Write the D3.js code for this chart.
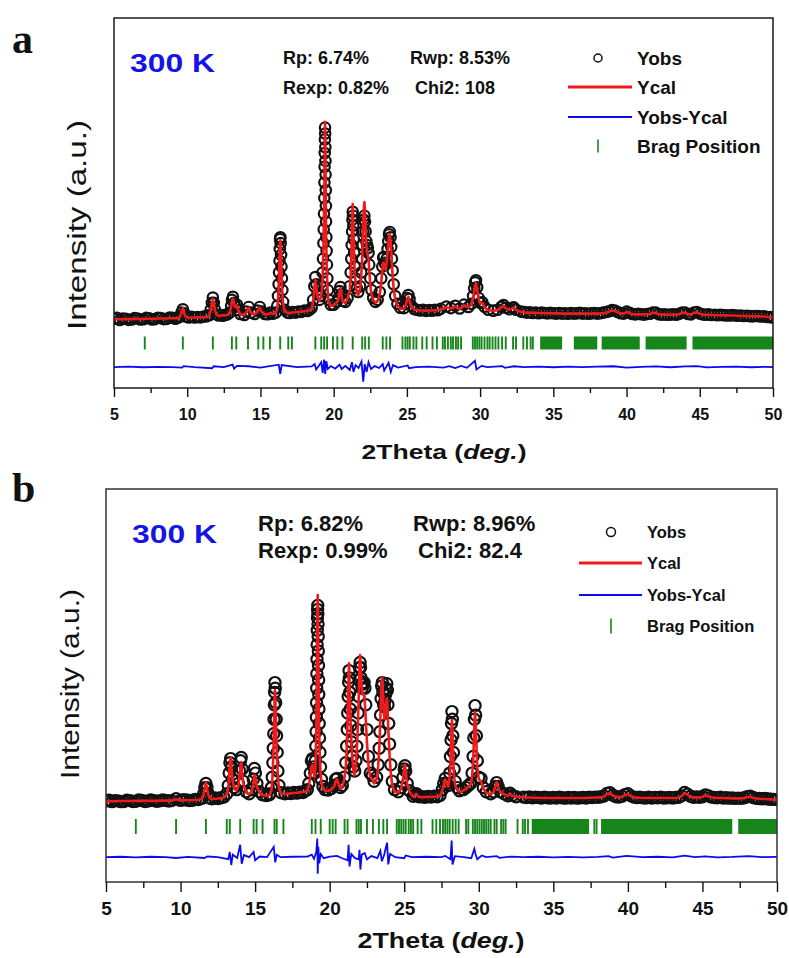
<!DOCTYPE html>
<html>
<head>
<meta charset="utf-8">
<script src="https://cdn.jsdelivr.net/npm/d3@7"></script>
<style>
  body { margin: 0; background: #fff; }
  svg { display: block; }
</style>
</head>
<body>
<script>
// ---------- data: 2theta (deg) and intensity (arb. units) ----------

// panel a
const thetaA = [
  5.0,5.2,5.4,5.6,5.8,6.0,6.2,6.4,6.6,6.8,7.0,7.2,7.4,7.6,7.8,8.0,8.2,8.4,8.6,8.8,9.0,9.2,9.35,
  9.5,9.6,9.7,9.8,9.9,
  10.1,10.3,10.5,10.7,10.9,11.1,11.3,
  11.5,11.6,11.68,11.75,11.82,11.9,12.0,
  12.15,12.3,12.45,12.6,12.75,
  12.9,13.0,13.06,13.12,13.2,13.3,13.4,13.5,13.62,
  13.9,14.05,14.2,14.35,14.6,14.8,14.95,15.1,15.3,
  15.5,15.68,15.85,
  16.05,16.15,16.2,16.24,16.27,16.3,16.32,16.34,16.36,16.38,16.41,16.44,16.47,16.5,16.55,16.65,16.85,
  17.0,17.2,17.4,17.6,17.8,18.0,18.2,18.35,
  18.5,18.6,18.68,18.75,18.82,18.9,19.02,19.12,19.2,19.24,19.27,19.3,19.32,19.34,19.36,19.37,19.38,19.39,
  19.4,19.41,19.42,19.43,19.44,19.45,19.46,19.47,19.48,19.5,19.52,19.54,19.57,19.61,19.67,19.8,20.0,20.2,
  20.33,20.4,20.46,20.53,20.62,
  20.8,20.95,21.1,21.16,21.2,21.23,21.26,21.28,21.3,21.32,21.34,21.37,21.4,21.44,21.5,21.58,
  21.68,21.8,21.88,21.94,21.98,22.02,22.06,22.1,22.14,22.18,22.23,22.28,22.33,22.38,22.43,22.5,22.58,22.7,22.85,23.0,
  23.15,23.25,23.32,23.38,23.42,23.48,23.55,23.62,23.68,23.73,23.78,23.83,23.88,23.93,23.98,24.03,24.1,24.2,24.35,24.55,
  24.8,24.92,25.02,25.1,25.18,25.3,25.5,
  25.7,25.9,26.1,26.3,26.5,26.7,26.9,27.1,27.3,
  27.7,28.0,28.3,28.6,28.9,29.2,
  29.4,29.52,29.6,29.66,29.72,29.8,29.9,30.0,30.15,30.3,30.55,
  30.9,31.2,31.45,31.6,31.75,32.0,32.2,32.3,32.45,32.8,
  33.0,33.2,33.4,33.6,33.8,34.0,34.2,34.4,34.6,34.8,35.0,35.2,35.4,35.6,35.8,36.0,36.2,36.4,36.6,36.8,
  37.0,37.2,37.4,37.6,37.8,38.0,38.2,38.4,38.6,38.8,39.0,39.2,39.4,39.6,39.8,40.0,40.2,40.4,40.6,40.8,
  41.0,41.2,41.4,41.6,41.8,42.0,42.2,42.4,42.6,42.8,43.0,43.2,43.4,43.6,43.8,44.0,44.2,44.4,44.6,44.8,
  45.0,45.2,45.4,45.6,45.8,46.0,46.2,46.4,46.6,46.8,47.0,47.2,47.4,47.6,47.8,48.0,48.2,48.4,48.6,48.8,
  49.0,49.2,49.4,49.6,49.8,50.0
];
const obsA = [
  0.3,0.8,-0.3,0.5,0.4,-0.2,0,0.7,0.5,0,0.1,0.8,0.6,0,0.2,0.9,0.7,0.2,0.3,1.0,0.8,0.4,0.9,
  1.5,3.5,5.2,3.2,1.5,
  1.0,1.4,1.0,1.3,1.1,1.5,1.6,
  2.2,5,8.5,11.2,8.5,5,2.6,
  2.0,2.3,1.9,2.4,2.6,
  3.5,7,10,11.6,8.5,6.5,7.6,4.8,2.8,
  2.3,4,6.4,3.5,2.8,4.5,6.4,4,2.8,
  2.7,3.6,2.9,
  3.5,7,12,18,24,30,36,41,42,39,33,27,21,15,9,5,3.5,
  3.3,3.8,3.5,4.1,3.9,4.5,4.3,4.9,
  6,10,17,21.7,18,13,10,12,17,24,31,39,46,54,62,70,78,85,
  92,98,95,88,81,74,66,58,50,42,35,28,21,15,10,7.5,7.5,9,
  11,14.5,16.6,13,9.5,
  9,11,17,24,31,38,45,51,55,53,48,41,34,27,21,16,
  14,17,24,31,38,45,51,53,50,45,40,38,36.5,34,28,21,15,11,9,10,
  14,21,27,31.5,32,29,28,31,36,40,43.5,44.7,42,37,31,25,18,12,8,6,
  5.8,8,11,12.5,10.5,7,5.3,
  5.0,4.6,4.9,4.4,4.8,4.5,4.9,4.7,5.4,
  6.6,5.8,7,5.6,7.6,6.4,
  8,12,16,19,20,16.5,11,8.5,8.8,6.5,5,
  4.5,5,6.5,7.4,6,5.2,6,6.2,5,4,
  3.8,3.5,3.7,3.3,3.5,3.2,3.6,3.3,3.1,3.4,3.2,3.0,3.3,3.0,3.2,2.9,3.3,3.0,3.1,3.4,
  3.0,3.2,2.9,3.1,3.3,3.0,3.2,3.5,3.8,4.2,4.8,4.6,3.8,3.2,3.0,4.0,3.4,2.8,2.6,2.9,
  2.7,2.5,2.8,2.9,3.6,3.5,2.7,2.5,2.6,2.4,2.5,2.7,2.4,2.9,3.6,3.5,2.8,2.6,3.6,3.8,
  3.0,2.6,2.4,2.6,2.3,2.4,2.2,2.4,2.2,2.1,2.0,2.2,2.1,1.9,2.0,1.8,1.9,1.7,1.6,1.8,
  1.7,1.5,1.6,1.3,1.2,1.0
];
const calA = [
  0.1,0.1,0.1,0.2,0.2,0.2,0.2,0.3,0.3,0.3,0.3,0.4,0.4,0.4,0.4,0.5,0.5,0.5,0.5,0.6,0.6,0.6,0.7,
  1.2,3.4,5.8,3.0,1.3,
  0.9,1.0,1.0,1.1,1.1,1.2,1.3,
  2.0,4.5,8,10.5,8,4.5,2.4,
  1.9,2.0,2.1,2.2,2.4,
  3.2,6.5,9.5,10.5,8,6.2,7.2,4.5,2.6,
  2.2,3.8,6,3.3,2.6,4.2,6,3.8,2.6,
  2.6,3.4,2.8,
  3.3,6,10,16,22,29,35,39.5,40.5,38,31,24,18,13,8,4.5,3.3,
  3.4,3.6,3.7,3.9,4.0,4.2,4.4,4.7,
  5.5,9,16,20,16,11.5,9.5,11,15,21,28,36,44,53,62,71,80,88,
  96,101,96,88,80,71,62,53,45,37,30,24,17,12,8.5,7,7.2,8.5,
  10.5,14,16,12.5,9,
  8.5,10.5,15,22,30,38,47,55,59,55,47,39,31,24,18,14,
  12.5,15,22,30,40,50,57,60,55,46,38,35,33,31,25,18,13,10,8.5,9.5,
  13,19,25,29,29,26,25.5,29,34,38.5,42,43.5,40,35,28,22,15.5,10.5,7,5.5,
  5.5,7.5,10,11.5,9.5,6.5,5,
  4.8,4.6,4.6,4.5,4.6,4.6,4.7,4.8,5.1,
  6.2,5.6,6.6,5.4,7.2,6.2,
  7.5,11,14.5,17.5,18.5,15,10.5,8.2,8.5,6.2,4.8,
  4.3,4.8,6.2,7,5.8,5,5.7,6,4.8,3.9,
  3.6,3.5,3.5,3.4,3.4,3.3,3.3,3.2,3.2,3.2,3.1,3.1,3.1,3.0,3.0,3.0,3.0,3.0,3.0,3.1,
  3.0,3.0,3.0,3.0,3.1,3.0,3.1,3.3,3.6,4.0,4.6,4.4,3.7,3.1,3.0,3.8,3.2,2.8,2.6,2.7,
  2.6,2.6,2.6,2.8,3.4,3.3,2.7,2.6,2.5,2.5,2.4,2.5,2.5,2.8,3.4,3.3,2.8,2.6,3.4,3.6,
  2.9,2.6,2.4,2.4,2.3,2.3,2.2,2.2,2.1,2.1,2.0,2.0,2.0,1.9,1.9,1.8,1.8,1.7,1.6,1.6,
  1.6,1.5,1.5,1.3,1.2,1.0
];
const diffThetaA = [
  5,6,7,8,9,9.65,9.75,10.5,11.7,11.8,
  12.5,13.1,13.2,13.4,14.2,15,16.25,16.35,16.45,17.5,
  18.5,18.7,18.8,19.0,19.15,19.25,19.35,19.42,19.5,19.6,
  19.8,20.1,20.4,20.55,20.8,21.1,21.25,21.35,21.5,21.7,
  21.9,22.02,22.12,22.25,22.38,22.55,22.8,23.1,23.35,23.45,
  23.75,23.9,24.05,24.4,25.05,25.15,25.6,26.5,27.5,27.9,
  28.3,28.7,29.1,29.65,29.75,30.1,30.5,31.5,31.7,32.3,
  33,34,35,36,37,38,39.1,40,41,42,
  43,44,44.8,45.5,46.5,47.5,48.5,49.5,50
];
const diffA = [
  0,0.2,-0.1,0.1,0,-0.3,0.5,0,-0.6,0.4,
  0,1.2,-0.8,0.6,0.4,-0.3,1.2,-3.5,1,0,
  0.3,1.5,-1.2,0.8,2.5,-3,3.8,-3.5,3,-1,
  0.5,-0.8,1.2,-1,0.6,-1.5,2.5,-2.5,1,-0.5,
  2.8,-7.5,1.5,-2.5,2.5,-1,0.5,-0.5,1.5,-1.8,
  2.2,-2.5,1,-0.3,0.8,-0.6,0,0.2,-0.3,0.5,
  -0.5,0.6,-0.4,3.2,-1.2,0.6,0,0.5,-0.4,0.4,
  0,0.2,-0.1,0.2,0,0.2,0.4,-0.3,0.1,0.3,
  -0.1,0.3,0.5,-0.2,0.1,0.2,-0.1,0.1,0
];
const braggA = [
  7.1,9.7,11.75,13.05,13.35,14.15,14.85,15.2,15.65,16.35,16.9,17.15,18.75,19.15,19.35,19.55,
  19.95,20.25,20.6,21.3,21.95,22.15,22.4,23.35,23.6,23.85,24.7,24.9,25.05,25.2,25.45,25.65,
  26.05,26.35,26.75,27.05,27.45,27.6,27.8,28.0,28.15,28.35,28.5,28.7,29.5,29.65,29.8,29.95,
  30.1,30.3,30.5,30.65,30.85,31.05,31.25,31.5,31.75,32.25,32.45,32.95,33.2,33.45,33.6
];
// stretches where the reflections merge into a solid green band
const braggBlocksA = [[34.1, 35.6], [36.4, 38.0], [38.3, 40.9], [41.3, 44.1], [44.5, 50]];
const statsA = ['Rp: 6.74%', 'Rwp: 8.53%', 'Rexp: 0.82%', 'Chi2: 108'];

// panel b
const thetaB = [
  5.0,5.2,5.4,5.6,5.8,6.0,6.2,6.4,6.6,6.8,7.0,7.2,7.4,7.6,7.8,8.0,8.2,8.4,8.6,8.8,9.0,9.2,9.4,9.7,
  10.0,10.2,10.4,10.6,10.8,11.0,11.2,
  11.45,11.55,11.63,11.7,11.77,11.85,11.95,
  12.1,12.3,12.5,12.7,12.9,
  13.1,13.2,13.26,13.31,13.36,13.42,13.5,13.6,13.75,13.88,13.96,14.02,14.07,14.13,14.22,14.4,14.6,14.78,14.88,
  14.95,15.02,15.12,15.3,
  15.5,15.75,15.95,
  16.0,16.1,16.15,16.19,16.22,16.25,16.27,16.29,16.31,16.33,16.35,16.38,16.41,16.44,16.48,16.53,16.6,16.75,
  17.0,17.2,17.4,17.6,17.8,18.0,18.2,18.35,
  18.5,18.6,18.7,18.78,18.85,18.93,
  19.0,19.04,19.07,19.09,19.11,19.12,19.13,19.14,19.15,19.16,19.17,19.18,19.19,19.2,
  19.21,19.22,19.23,19.24,19.25,19.26,19.27,19.28,19.3,19.32,19.35,19.39,19.45,19.55,
  19.7,19.9,20.1,
  20.3,20.4,20.5,20.6,20.72,
  20.85,20.98,21.08,21.14,21.18,21.21,21.24,21.27,21.3,21.32,21.35,21.38,21.42,21.47,21.53,21.6,
  21.68,21.76,21.82,21.87,21.91,21.95,21.98,22.01,22.04,22.07,22.1,22.14,22.19,22.25,22.31,22.36,22.42,22.5,22.6,22.72,22.85,22.98,
  23.15,23.25,23.32,23.37,23.41,23.45,23.49,23.53,23.57,23.62,23.67,23.71,23.75,23.79,23.83,23.87,23.91,23.96,24.02,24.1,24.2,24.35,
  24.6,24.8,24.92,25.0,25.05,25.1,25.2,25.35,
  25.6,25.72,25.8,25.88,26.0,
  26.2,26.4,26.6,26.8,27.0,27.2,27.4,
  27.55,27.65,27.75,27.85,27.95,28.05,28.1,28.14,28.17,28.2,28.23,28.26,28.3,28.35,28.42,28.55,28.7,
  28.95,29.15,29.3,29.45,29.55,29.62,29.67,29.71,29.75,29.79,29.84,29.9,30.0,30.15,30.3,30.5,
  30.8,31.0,31.1,31.2,31.3,31.45,31.7,31.95,32.1,32.25,32.5,
  33.0,33.2,33.4,33.6,33.8,34.0,34.2,34.4,34.6,34.8,35.0,35.2,35.4,35.6,35.8,36.0,36.2,36.4,36.6,36.8,
  37.0,37.2,37.4,37.6,37.8,38.0,38.2,38.4,38.6,38.8,39.0,39.2,39.4,39.6,39.8,40.0,40.2,40.4,40.6,40.8,
  41.0,41.2,41.4,41.6,41.8,42.0,42.2,42.4,42.6,42.8,43.0,43.2,43.4,43.6,43.8,44.0,44.2,44.4,44.6,44.8,
  45.0,45.2,45.4,45.6,45.8,46.0,46.2,46.4,46.6,46.8,47.0,47.2,47.4,47.6,47.8,48.0,48.2,48.4,48.6,48.8,
  49.0,49.2,49.4,49.6,49.8,50.0
];
const obsB = [
  0.5,0.9,0.2,0.7,0.6,0.2,0.3,0.9,0.7,0.3,0.4,1.0,0.8,0.3,0.5,1.0,0.7,0.4,0.6,1.0,0.8,0.5,0.7,1.6,
  0.8,1.2,1.0,0.7,0.9,1.3,1.2,
  1.8,4,7,9,7,4,2,
  1.6,2.0,1.7,2.1,2.4,
  4,8,14,19,21,17,11,7,6,9,15,20,21.5,16,10,5,4,6,11,
  16.2,14,9,5,
  3.5,3.2,3.5,
  4,7,12,19,26,33,40,47,53,57.7,55,48,40,32,24,15,8,4.5,
  4.0,4.4,4.1,4.6,4.3,4.8,4.6,5.4,
  6,9,14,20,21,17,
  14,20,27,34,41,48,55,62,69,76,83,89,93,95,
  91,86,80,73,66,59,52,45,38,31,24,17,11,7.5,
  6,5.8,6.5,
  8,11,11.4,9,7,
  8,12,19,27,35,43,51,58,63.5,60,53,45,37,29,22,17,
  15,20,27,35,43,51,59,65,67.4,65,60,57,55,57,57.7,55,47,35,22,14,12.8,10,
  12,18,26,34,42,50,56,57.7,53,47,46,49,52,55,57.2,54,47,38,28,18,10,6,
  5,7,12,16,17.6,15,9,5.5,
  2.8,3.6,4.1,3.4,2.6,
  2.6,2.3,2.7,2.4,2.8,2.6,3.2,
  6,9,11.4,9,8,14,22,30,38,43.7,40,32,24,16,10,7,5.5,
  6,7,8,9,14,22,31,40,46.6,42,32,20,12,11.4,7,5,
  4,5,7.5,9.4,7.5,5,4,3.0,4.3,3.2,2.6,
  2.4,2.2,2.5,2.1,2.3,2.2,2.0,2.3,2.1,2.0,2.2,2.0,2.3,2.1,1.9,2.2,2.0,2.2,1.9,2.1,
  2.2,2.0,2.3,2.2,2.4,2.3,2.6,2.9,4.2,4.5,3.3,2.6,2.4,2.8,3.6,4.0,3.0,2.4,2.2,2.3,
  2.1,2.0,2.3,2.0,2.2,2.1,2.3,2.0,2.1,2.2,2.0,2.2,2.3,3.0,4.6,3.8,2.8,2.3,2.5,2.3,
  2.6,3.5,3.0,2.4,2.2,2.1,2.3,2.0,2.1,1.9,2.0,1.8,1.9,1.8,2.1,2.6,2.8,2.2,1.8,1.7,
  1.6,1.7,1.5,1.4,1.3,1.2
];
const calB = [
  0.4,0.4,0.4,0.4,0.5,0.5,0.5,0.5,0.5,0.5,0.6,0.6,0.6,0.6,0.6,0.6,0.6,0.6,0.7,0.7,0.7,0.7,0.7,1.4,
  0.8,0.9,0.9,0.9,0.9,1.0,1.1,
  1.6,3.8,7,9.5,7,3.8,1.8,
  1.5,1.6,1.7,1.9,2.2,
  3.6,7,13,19,21.5,16,10,6.5,5.5,8,13,17.5,19.3,14,8.5,4.6,3.8,5,8.5,
  13,11.5,7.5,4.5,
  3.3,3.1,3.3,
  3.8,6,10,16,23,30,37,44,50,54,51,44,36,28,20,12,6.5,4,
  3.9,4.1,4.2,4.4,4.5,4.7,4.9,5.1,
  5.5,8,12,17,18,15,
  12,17,23,30,37,45,53,61,69,77,85,92,97,100,
  94,86,78,70,62,54,46,39,32,26,20,14,9.5,6.5,
  5.5,5.5,6,
  7.5,10,11,8.5,6.5,
  7.5,11,17,25,34,43,52,61,67,62,53,44,35,27,20,15,
  13,18,25,33,42,51,60,67,71,68,62,56,52,52,52,48,40,29,18,12,11,9,
  11,17,25,34,43,52,58,60,54,45,40,41,44,47,50,47,40,31,22,14,8,5,
  4.6,6.5,11,16,18,15,8.5,5,
  2.6,3.4,4,3.2,2.5,
  2.4,2.4,2.5,2.5,2.6,2.7,3.0,
  5.5,8.5,11,8.5,7.5,12,19,27,35,39.6,35,27,19,12,8,6,5,
  5.5,6.5,7.5,8.5,12,20,29,38,43.5,38,28,17,11,10,6.5,4.5,
  3.8,4.8,7.5,9.7,7.2,4.7,3.8,3.0,4.1,3.1,2.5,
  2.3,2.2,2.2,2.1,2.1,2.1,2.0,2.1,2.0,2.0,2.0,2.0,2.1,2.0,2.0,2.0,2.0,2.0,2.0,2.0,
  2.0,2.0,2.1,2.1,2.2,2.2,2.4,2.7,3.9,4.2,3.1,2.5,2.3,2.6,3.4,3.8,2.9,2.3,2.1,2.1,
  2.0,2.0,2.1,2.0,2.0,2.0,2.1,2.0,2.0,2.0,2.0,2.0,2.2,2.9,4.3,3.6,2.7,2.2,2.3,2.2,
  2.5,3.3,2.8,2.3,2.1,2.0,2.1,2.0,1.9,1.9,1.8,1.8,1.8,1.8,2.0,2.4,2.6,2.1,1.7,1.6,
  1.5,1.5,1.4,1.3,1.2,1.2
];
const diffThetaB = [
  5,6,7,8,9,9.7,10.5,11.6,11.8,12.5,
  13.2,13.3,13.4,13.5,13.8,14.0,14.1,14.25,14.6,14.9,
  15.0,15.3,15.8,16.25,16.35,16.45,16.7,17.5,18.5,18.8,
  18.95,19.1,19.17,19.2,19.24,19.3,19.4,19.6,20.0,20.5,
  20.8,21.2,21.27,21.33,21.45,21.7,21.95,22.0,22.06,22.15,
  22.35,22.5,22.8,23.2,23.4,23.5,23.65,23.85,23.93,24.05,
  24.4,25.0,25.1,25.5,26.5,27.5,27.75,28.1,28.18,28.24,
  28.4,29.0,29.5,29.7,29.8,29.9,30.2,30.5,31.2,31.4,
  32.2,33,34,35,36,37,38,38.7,39,39.9,
  41,42,43,43.8,44.5,45.2,46,47,48.1,49,
  50
];
const diffB = [
  0,0.2,-0.1,0.2,0,-0.4,0.1,-0.4,0.3,0,
  -1,2.5,-3.8,1.2,-0.4,6,-3.2,1,0,2.5,
  -1.5,0.3,0,5,-2.5,1.2,0,0.2,0.3,1.2,
  -0.8,2.5,9,-8,5,-3,1.5,-0.5,0.3,0.6,
  -0.4,-1.5,6,-4.5,1.5,-0.5,-1,3.5,-6,1.2,
  2,-1,0.5,-0.5,3,-2,1,7,-3.5,1.5,
  0,-0.5,0.8,0,0.2,0,0.6,-1,8,-3.5,
  0.5,0,-0.5,4,1,-1,0.8,0,0.5,-0.3,
  0.3,0,0.2,-0.1,0.1,-0.1,0.1,0.5,-0.2,0.6,
  0,0.2,-0.1,0.7,0,0.4,-0.1,0.1,0.5,0,
  0.1
];
const braggB = [
  7.0,9.7,11.7,13.1,13.3,14.0,14.9,15.1,15.5,16.3,16.45,16.9,18.8,19.05,19.4,20.0,
  20.2,20.4,21.0,21.2,21.8,21.95,22.1,22.5,22.9,23.3,23.6,23.85,24.5,24.65,24.8,24.95,
  25.1,25.3,25.45,25.6,25.9,26.15,26.9,27.15,27.4,27.6,27.75,27.9,28.05,28.25,28.45,28.65,
  29.15,29.3,29.6,29.75,29.9,30.05,30.2,30.35,30.5,30.65,30.8,31.05,31.2,31.5,31.65,31.8,
  32.6,32.95,33.1,33.3,37.75,37.9
];
const braggBlocksB = [[33.55, 37.4], [38.2, 47.0], [47.4, 50]];
const statsB = ['Rp: 6.82%', 'Rwp: 8.96%', 'Rexp: 0.99%', 'Chi2: 82.4'];

const xTicks = [5, 10, 15, 20, 25, 30, 35, 40, 45, 50];
const xMinorTicks = [7.5, 12.5, 17.5, 22.5, 27.5, 32.5, 37.5, 42.5, 47.5];
const legendLabels = ['Yobs', 'Ycal', 'Yobs-Ycal', 'Brag Position'];

// ---------- drawing ----------
const red = '#f01a1a', blue = '#0a0af0', green = '#17861a', ink = '#111';
const sans = 'Arial, "Liberation Sans", sans-serif';

const svg = d3.select('body').append('svg')
  .attr('width', 789)
  .attr('height', 958)
  .style('font-family', sans);

// layout of the two panels (pixels)
const panelA = {
  id: 'a', theta: thetaA, obs: obsA, cal: calA, diffTheta: diffThetaA, diff: diffA,
  bragg: braggA, blocks: braggBlocksA, stats: statsA,
  left: 114, right: 773, top: 18, bottom: 388, yDomain: [-35, 154],
  r: 5.2, braggU: -12, braggLen: 13, diffU: -24.3, frame: '#1a1a1a',
  tickFont: 16, majorLen: 9, minorLen: 5, tickPad: 11.5,
  xLab: [444, 459, 21, 165], yLab: [86, 225, 25, 210],
  letter: [12, 53], temp: [130, 72, 26, 85],
  statPos: [[283, 64], [410, 64], [283, 94], [415, 94]], statFont: 18,
  leg: { cx: 598, x1: 568, x2: 632, tx: 637, ys: [58, 87, 117, 146], font: 19, r: 4, tick: 13 }
};
const panelB = {
  id: 'b', theta: thetaB, obs: obsB, cal: calB, diffTheta: diffThetaB, diff: diffB,
  bragg: braggB, blocks: braggBlocksB, stats: statsB,
  left: 106, right: 777, top: 489, bottom: 882, yDomain: [-38.6, 151.2],
  r: 5.6, braggU: -11.8, braggLen: 15, diffU: -26.6, frame: '#333',
  tickFont: 19, majorLen: 10, minorLen: 6, tickPad: 9.5,
  xLab: [441, 948, 22, 167], yLab: [79, 684, 25, 190],
  letter: [12, 502], temp: [132, 543, 26, 85],
  statPos: [[258, 531], [413, 531], [258, 558], [418, 558]], statFont: 22,
  leg: { cx: 611, x1: 579, x2: 642, tx: 647, ys: [532, 563, 595, 626], font: 16.5, r: 4.5, tick: 15 }
};

function drawPanel(p) {
  const x = d3.scaleLinear().domain([5, 50]).range([p.left, p.right]);
  const y = d3.scaleLinear().domain(p.yDomain).range([p.bottom, p.top]);
  const line = d3.line().x(d => x(d[0])).y(d => y(d[1]));

  const g = svg.append('g');
  g.append('clipPath').attr('id', 'clip-' + p.id)
    .append('rect')
    .attr('x', p.left).attr('y', p.top)
    .attr('width', p.right - p.left).attr('height', p.bottom - p.top);
  const plot = g.append('g').attr('clip-path', `url(#clip-${p.id})`);

  // Bragg reflections
  const by = y(p.braggU);
  plot.selectAll('rect.block').data(p.blocks).enter().append('rect')
    .attr('x', d => x(d[0]))
    .attr('width', d => x(d[1]) - x(d[0]))
    .attr('y', by - p.braggLen / 2)
    .attr('height', p.braggLen)
    .attr('fill', green);
  plot.selectAll('line.bragg').data(p.bragg).enter().append('line')
    .attr('x1', d => x(d)).attr('x2', d => x(d))
    .attr('y1', by - p.braggLen / 2).attr('y2', by + p.braggLen / 2)
    .attr('stroke', green).attr('stroke-width', 1.9);

  // difference curve, shifted below the pattern
  const diffPts = p.diffTheta.map((t, i) => [t, p.diff[i] + p.diffU]);
  plot.append('path').datum(diffPts)
    .attr('d', line).attr('fill', 'none')
    .attr('stroke', blue).attr('stroke-width', 1.8);

  // observed points
  const obsPts = p.theta.map((t, i) => [t, p.obs[i]]);
  plot.selectAll('circle.obs').data(obsPts).enter().append('circle')
    .attr('cx', d => x(d[0])).attr('cy', d => y(d[1]))
    .attr('r', p.r)
    .attr('fill', 'none').attr('stroke', ink).attr('stroke-width', 2.2);

  // calculated profile
  const calPts = p.theta.map((t, i) => [t, p.cal[i]]);
  plot.append('path').datum(calPts)
    .attr('d', line).attr('fill', 'none')
    .attr('stroke', red).attr('stroke-width', 2.6)
    .attr('stroke-linejoin', 'round');

  // frame
  g.append('rect')
    .attr('x', p.left).attr('y', p.top)
    .attr('width', p.right - p.left).attr('height', p.bottom - p.top)
    .attr('fill', 'none').attr('stroke', p.frame).attr('stroke-width', 1.5);

  // x axis, major and minor ticks outward
  g.append('g')
    .attr('transform', `translate(0,${p.bottom})`)
    .call(d3.axisBottom(x).tickValues(xTicks).tickSize(p.majorLen).tickPadding(p.tickPad).tickSizeOuter(0))
    .call(a => a.select('.domain').remove())
    .call(a => a.selectAll('line').attr('stroke', ink).attr('stroke-width', 1.4))
    .call(a => a.selectAll('text')
      .attr('font-size', p.tickFont).attr('font-weight', 'bold')
      .attr('font-family', sans).attr('fill', ink));
  g.append('g')
    .attr('transform', `translate(0,${p.bottom})`)
    .call(d3.axisBottom(x).tickValues(xMinorTicks).tickSize(p.minorLen).tickFormat('').tickSizeOuter(0))
    .call(a => a.select('.domain').remove())
    .call(a => a.selectAll('line').attr('stroke', ink).attr('stroke-width', 1.4));

  // axis titles
  const xt = g.append('text')
    .attr('x', p.xLab[0]).attr('y', p.xLab[1])
    .attr('text-anchor', 'middle')
    .attr('font-size', p.xLab[2]).attr('font-weight', 'bold').attr('fill', ink)
    .attr('textLength', p.xLab[3]).attr('lengthAdjust', 'spacingAndGlyphs');
  xt.append('tspan').text('2Theta (');
  xt.append('tspan').attr('font-style', 'italic').text('deg.');
  xt.append('tspan').text(')');

  g.append('text')
    .attr('transform', `translate(${p.yLab[0]},${p.yLab[1]}) rotate(-90)`)
    .attr('text-anchor', 'middle')
    .attr('font-size', p.yLab[2]).attr('fill', ink)
    .attr('textLength', p.yLab[3]).attr('lengthAdjust', 'spacingAndGlyphs')
    .text('Intensity (a.u.)');

  // panel letter
  g.append('text')
    .attr('x', p.letter[0]).attr('y', p.letter[1])
    .attr('font-family', '"Liberation Serif", "Times New Roman", serif')
    .attr('font-weight', 'bold').attr('font-size', 42).attr('fill', ink)
    .text(p.id);

  // temperature tag
  g.append('text')
    .attr('x', p.temp[0]).attr('y', p.temp[1])
    .attr('font-size', p.temp[2]).attr('font-weight', 'bold').attr('fill', '#1414e6')
    .attr('textLength', p.temp[3]).attr('lengthAdjust', 'spacingAndGlyphs')
    .text('300 K');

  // refinement statistics
  g.selectAll('text.stat').data(p.stats).enter().append('text')
    .attr('x', (d, i) => p.statPos[i][0]).attr('y', (d, i) => p.statPos[i][1])
    .attr('font-size', p.statFont).attr('font-weight', 'bold').attr('fill', ink)
    .text(d => d);

  // legend
  const L = p.leg;
  g.append('circle').attr('cx', L.cx).attr('cy', L.ys[0]).attr('r', L.r)
    .attr('fill', 'none').attr('stroke', ink).attr('stroke-width', 1.5);
  g.append('line').attr('x1', L.x1).attr('x2', L.x2).attr('y1', L.ys[1]).attr('y2', L.ys[1])
    .attr('stroke', red).attr('stroke-width', 3);
  g.append('line').attr('x1', L.x1).attr('x2', L.x2).attr('y1', L.ys[2]).attr('y2', L.ys[2])
    .attr('stroke', blue).attr('stroke-width', 2);
  g.append('line').attr('x1', L.cx).attr('x2', L.cx)
    .attr('y1', L.ys[3] - L.tick / 2).attr('y2', L.ys[3] + L.tick / 2)
    .attr('stroke', green).attr('stroke-width', 1.6);
  g.selectAll('text.leg').data(legendLabels).enter().append('text')
    .attr('x', L.tx).attr('y', (d, i) => L.ys[i])
    .attr('dy', '0.36em')
    .attr('font-size', L.font).attr('font-weight', 'bold').attr('fill', ink)
    .text(d => d);
}

drawPanel(panelA);
drawPanel(panelB);
</script>
</body>
</html>
